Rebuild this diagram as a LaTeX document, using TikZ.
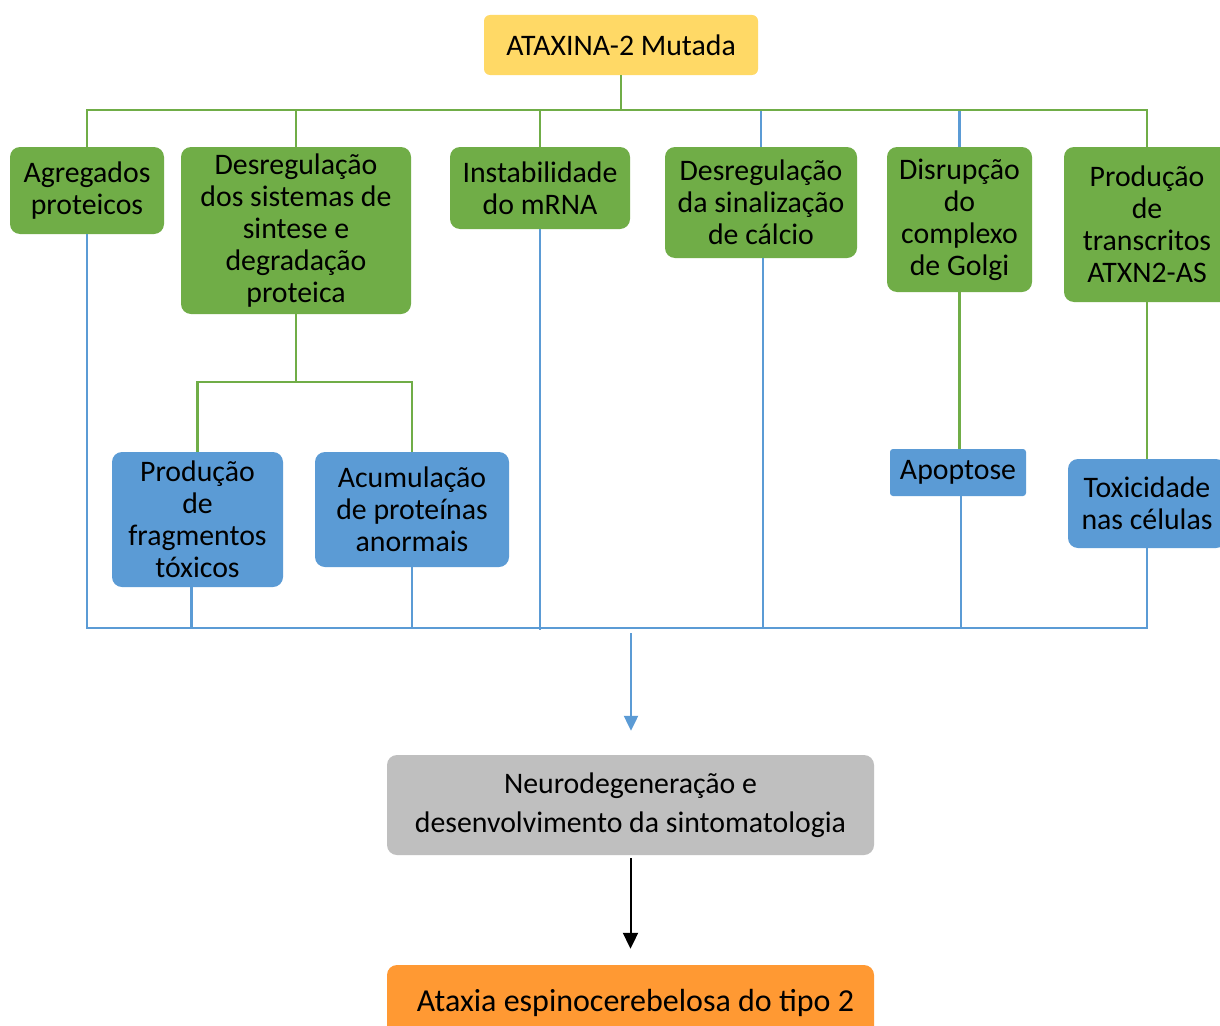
\documentclass[tikz,border=0pt]{standalone}
\usepackage{fontspec}
\setmainfont{Carlito}
\usetikzlibrary{arrows.meta}
\definecolor{cgreen}{HTML}{70AD47}
\definecolor{cblue}{HTML}{5B9BD5}
\definecolor{cyellow}{HTML}{FFD966}
\definecolor{cgrey}{HTML}{BFBFBF}
\definecolor{corange}{HTML}{FF9933}
\tikzset{
  basebox/.style={rectangle, rounded corners=10pt, align=center, inner sep=0pt, text=black, font=\fontsize{29.8}{32}\selectfont},
  gbox/.style={basebox, fill=cgreen},
  bbox/.style={basebox, fill=cblue},
  gline/.style={draw=cgreen, line width=2.6pt},
  bline/.style={draw=cblue, line width=2.2pt},
}
\begin{document}
\begin{tikzpicture}[x=1pt,y=-1pt]
\useasboundingbox (0,0) rectangle (1220,1025);
\clip (0,0) rectangle (1220,1025);
\fill[white] (0,0) rectangle (1220,1025);

% top
\node[basebox, fill=cyellow, rounded corners=6pt, minimum width=274, minimum height=60] (ata) at (621,45) {ATAXINA-2 Mutada};

% green row
\node[gbox, minimum width=154, minimum height=87] (agr) at (87,190.5) {Agregados\\proteicos};
\node[gbox, minimum width=230, minimum height=167] (des) at (296,230.5) {Desregulação\\dos sistemas de\\sintese e\\degradação\\proteica};
\node[gbox, minimum width=180, minimum height=82] (ins) at (540,188) {Instabilidade\\do mRNA};
\node[gbox, minimum width=192, minimum height=111] (cal) at (761,202.5) {Desregulação\\da sinalização\\de cálcio};
\node[gbox, minimum width=145, minimum height=145] (gol) at (959.5,219.5) {Disrupção\\do\\complexo\\de Golgi};
\node[gbox, minimum width=166, minimum height=155] (pas) at (1147,224.5) {Produção\\de\\transcritos\\ATXN2-AS};

% blue row
\node[bbox, minimum width=171, minimum height=135] (fra) at (197.5,519.5) {Produção\\de\\fragmentos\\tóxicos};
\node[bbox, minimum width=194, minimum height=115] (acu) at (412,509.5) {Acumulação\\de proteínas\\anormais};
\node[bbox, rounded corners=3pt, minimum width=136, minimum height=47] (apo) at (958,472.5) {Apoptose};
\node[bbox, minimum width=158, minimum height=89] (tox) at (1147,503.5) {Toxicidade\\nas células};

% bottom
\node[basebox, fill=cgrey, minimum width=487, minimum height=100, font=\fontsize{29.8}{39}\selectfont] (neu) at (630.5,805) {Neurodegeneração e\\desenvolvimento da sintomatologia};
\node[basebox, fill=corange, minimum width=487, minimum height=76, font=\fontsize{32}{36}\selectfont] (sca) at (630.5,1003) {\hspace{10pt}Ataxia espinocerebelosa do tipo 2};

% top bus
\coordinate (bt) at (621,110);
\draw[gline] (ata.south) -- (bt);
\draw[bline] (bt) -| (cal.north);
\draw[bline] (bt) -| (gol.north);
\draw[gline] (agr.north) |- (bt) -| (pas.north);
\draw[gline] (bt) -| (des.north);
\draw[gline] (bt) -| (ins.north);

% sub branch
\coordinate (sj) at (296,382);
\draw[gline] (des.south) -- (sj);
\draw[gline] (fra.north) |- (sj) -| (acu.north);
\draw[gline] (gol.south) -- (gol.south |- apo.north);
\draw[gline] (pas.south) -- (tox.south |- tox.north);

% bottom bus
\coordinate (bb) at (631,628);
\draw[bline] (agr.south) |- (bb) -| (tox.south);
\draw[bline] ([xshift=-6pt]fra.south) -- ([xshift=-6pt]fra.south |- bb);
\draw[bline] (acu.south) -- (acu.south |- bb);
\draw[bline] (ins.south) -- ([yshift=-2pt]ins.south |- bb);
\draw[bline] ([xshift=2pt]cal.south) -- ([xshift=2pt]cal.south |- bb);
\draw[bline] ([xshift=3pt]apo.south) -- ([xshift=3pt]apo.south |- bb);

% arrows
\coordinate (ab) at (631,633);
\draw[bline, -{Triangle[length=15pt,width=14pt]}, shorten >=24pt] (ab) -- (ab |- neu.north);
\draw[black, line width=2pt, -{Triangle[length=16pt,width=15pt]}, shorten <=3pt, shorten >=16pt] (neu.south) -- (sca.north);
\end{tikzpicture}
\end{document}
